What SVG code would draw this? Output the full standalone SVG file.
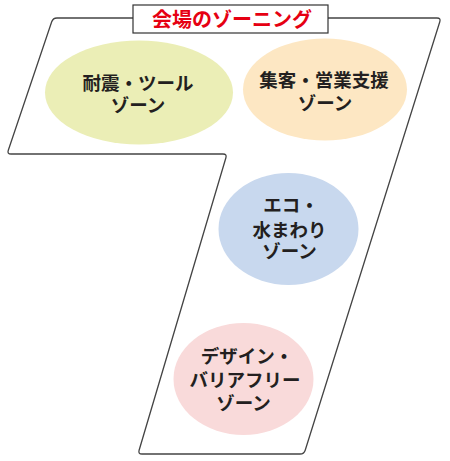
<svg xmlns="http://www.w3.org/2000/svg" width="450" height="461" viewBox="0 0 450 461">
<style>
.outline{fill:#fff;stroke:#444;stroke-width:1.3;stroke-linejoin:round}
.zt{font-family:"Noto Sans CJK JP","Noto Sans",sans-serif;font-weight:700;font-size:18.5px;fill:#231f20;text-anchor:middle}
.title{font-family:"Noto Sans CJK JP","Noto Sans",sans-serif;font-weight:700;font-size:20px;fill:#e60012;text-anchor:middle}
</style>
<rect width="450" height="461" fill="#fff"/>
<g id="venue-outline">
<path class="outline" d="M57,18 L437,18 Q441,18 439.8,21.8 L305.2,450.2 Q304,454 300,454 L142,454 Q138,454 139.1,450.2 L225.9,157.8 Q227,154 223,154 L11,154 Q7,154 8.3,150.2 L51.7,21.8 Q53,18 57,18 Z"/>
</g>
<g id="title">
<rect x="133" y="5" width="195" height="28" fill="#fff" stroke="#333" stroke-width="1.2"/>
<text class="title" x="232" y="27">会場のゾーニング</text>
</g>
<g id="zone-taishin">
<ellipse cx="139" cy="92.5" rx="94" ry="52" fill="#ebeeb6"/>
<text class="zt" x="138" y="90">耐震・ツール</text>
<text class="zt" x="138" y="112">ゾーン</text>
</g>
<g id="zone-shukyaku">
<ellipse cx="325" cy="89.5" rx="82" ry="51" fill="#fde7c3"/>
<text class="zt" x="324" y="87">集客・営業支援</text>
<text class="zt" x="325" y="110">ゾーン</text>
</g>
<g id="zone-eco">
<ellipse cx="288.5" cy="229" rx="70" ry="56" fill="#c8d8ee"/>
<text class="zt" x="291" y="212">エコ・</text>
<text class="zt" x="289.5" y="237">水まわり</text>
<text class="zt" x="289.5" y="258">ゾーン</text>
</g>
<g id="zone-design">
<ellipse cx="243.5" cy="379" rx="70" ry="56" fill="#f9dada"/>
<text class="zt" x="247" y="363">デザイン・</text>
<text class="zt" x="245" y="387">バリアフリー</text>
<text class="zt" x="243.5" y="410">ゾーン</text>
</g>
<g id="connectors"/>
</svg>
